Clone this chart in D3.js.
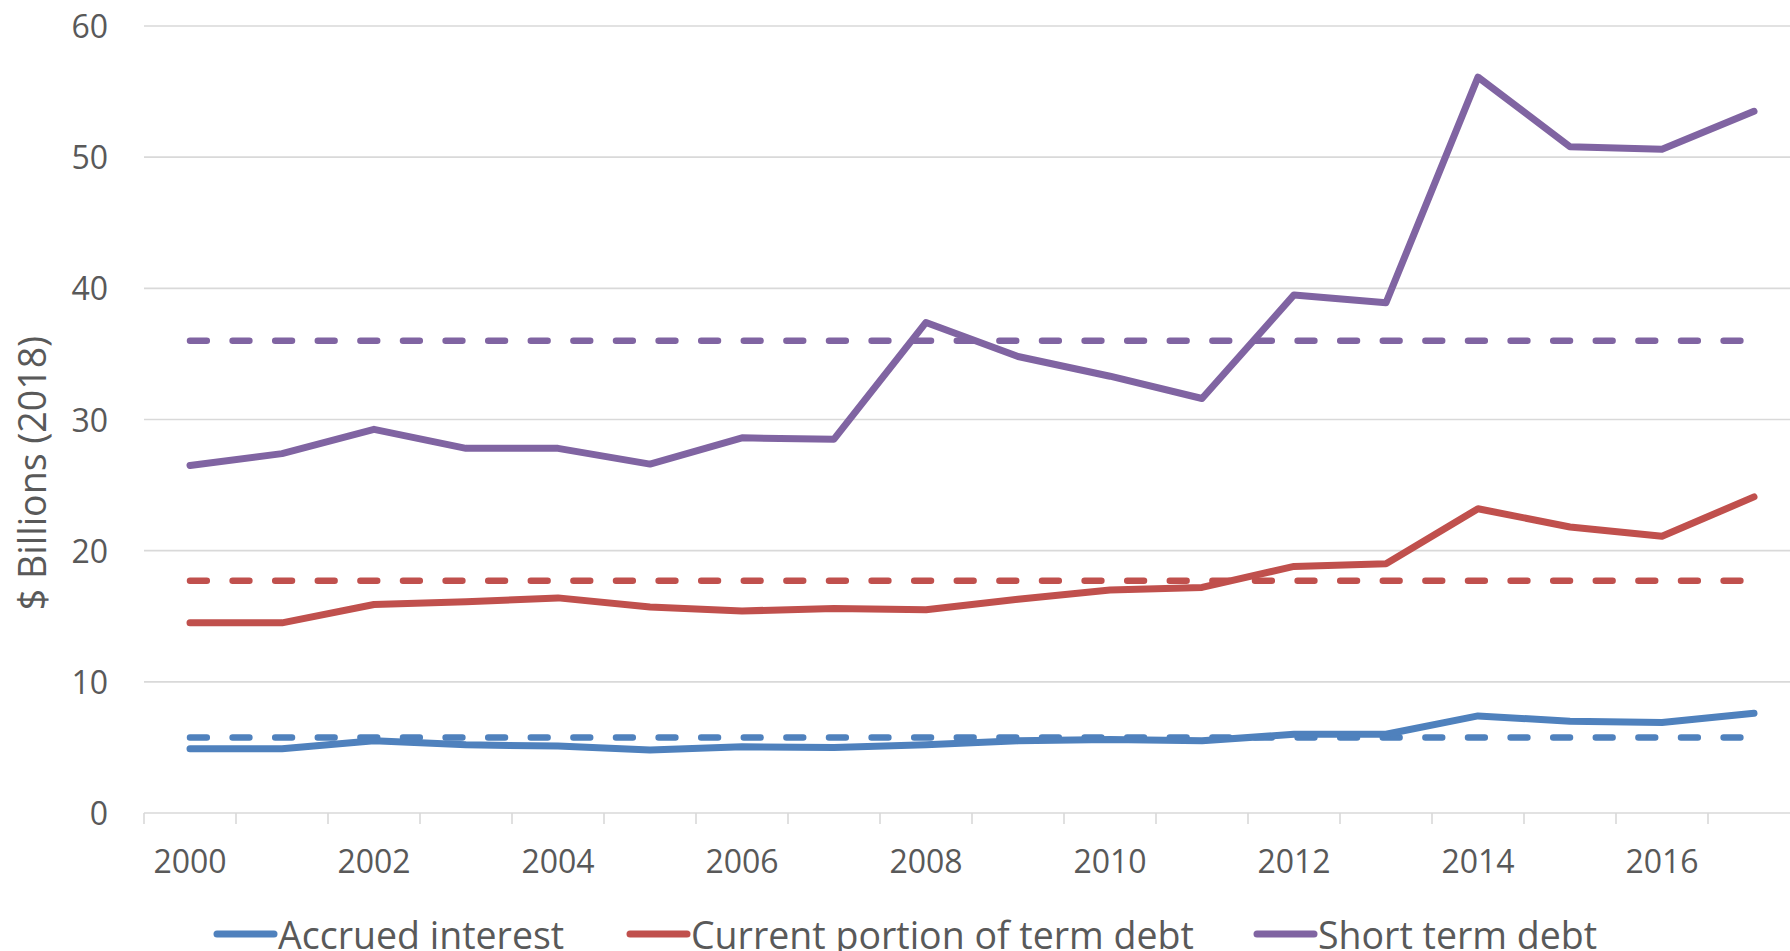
<!DOCTYPE html>
<html>
<head>
<meta charset="utf-8">
<script src="https://cdn.jsdelivr.net/npm/d3@7"></script>
<style>
  body { margin: 0; background: #fff; overflow: hidden; }
  text { font-family: "Open Sans", sans-serif; fill: #595959; }
</style>
</head>
<body>
<script>
/** chart data **/
var years = [2000, 2001, 2002, 2003, 2004, 2005, 2006, 2007, 2008,
             2009, 2010, 2011, 2012, 2013, 2014, 2015, 2016, 2017];
var yearLabels = [2000, 2002, 2004, 2006, 2008, 2010, 2012, 2014, 2016];
var yTicks = [0, 10, 20, 30, 40, 50, 60];

var accruedInterest = [4.9, 4.9, 5.5, 5.2, 5.1, 4.8, 5.05, 5.0, 5.2,
                       5.5, 5.6, 5.5, 6.0, 6.0, 7.4, 7.0, 6.9, 7.6];
var currentPortion  = [14.5, 14.5, 15.9, 16.1, 16.4, 15.7, 15.4, 15.6, 15.5,
                       16.3, 17.0, 17.2, 18.8, 19.0, 23.2, 21.8, 21.1, 24.1];
var shortTermDebt   = [26.5, 27.4, 29.25, 27.8, 27.8, 26.6, 28.6, 28.5, 37.4,
                       34.8, 33.3, 31.6, 39.5, 38.9, 56.1, 50.8, 50.6, 53.5];

// average lines (dashed)
var accruedAvg = 5.75;
var currentAvg = 17.7;
var shortAvg = 36.0;

var seriesNames = ["Accrued interest", "Current portion of term debt", "Short term debt"];
var seriesColors = ["#4F81BD", "#C0504D", "#8064A2"];

var width = 1790, height = 951;

var svg = d3.select("body").append("svg")
	.attr("width", width)
	.attr("height", height);

// plot area (the right edge runs past the picture, as in the original)
var plot = { left: 144, right: 1800, top: 26, bottom: 813 };

var x = d3.scaleBand()
	.domain(years)
	.range([plot.left, plot.right]);

var y = d3.scaleLinear()
	.domain([0, 60])
	.range([plot.bottom, plot.top]);

var cx = function (yr) { return x(yr) + x.bandwidth() / 2; };

// horizontal gridlines
svg.append("g")
	.selectAll("line")
	.data(yTicks)
	.join("line")
	.attr("x1", plot.left)
	.attr("x2", width)
	.attr("y1", d => y(d))
	.attr("y2", d => y(d))
	.attr("stroke", "#d9d9d9")
	.attr("stroke-width", 1.6);

// y tick labels
var yAxis = d3.axisLeft(y).tickValues(yTicks).tickSize(0).tickPadding(0);
var gy = svg.append("g")
	.attr("transform", "translate(108,0)")
	.call(yAxis);
gy.select(".domain").remove();
gy.selectAll("text")
	.attr("dy", "0.36em")
	.style("font-size", "32px")
	.style("font-family", "'Open Sans', sans-serif")
	.attr("fill", "#595959");

// x axis tick marks between categories
var boundaries = years.map(d => x(d)).concat([plot.right]);
svg.append("g")
	.selectAll("line")
	.data(boundaries)
	.join("line")
	.attr("x1", d => d)
	.attr("x2", d => d)
	.attr("y1", plot.bottom)
	.attr("y2", plot.bottom + 11)
	.attr("stroke", "#d9d9d9")
	.attr("stroke-width", 1.6);

// x labels every other year
var xAxis = d3.axisBottom(x).tickValues(yearLabels).tickSize(0).tickPadding(0);
var gx = svg.append("g")
	.attr("transform", "translate(0,873)")
	.call(xAxis);
gx.select(".domain").remove();
gx.selectAll("text")
	.attr("dy", 0)
	.attr("y", 0)
	.style("font-size", "32px")
	.style("font-family", "'Open Sans', sans-serif")
	.attr("fill", "#595959");

// y axis title
svg.append("text")
	.attr("transform", "translate(46,473) rotate(-90)")
	.style("text-anchor", "middle")
	.style("font-size", "37.5px")
	.text("$ Billions (2018)");

var line = d3.line()
	.x((d, i) => cx(years[i]))
	.y(d => y(d));

var solid = [accruedInterest, currentPortion, shortTermDebt];
var averages = [accruedAvg, currentAvg, shortAvg];

// dashed average lines first, solid series on top
averages.forEach(function (avg, k) {
	svg.append("path")
		.attr("d", line(years.map(() => avg)))
		.attr("fill", "none")
		.attr("stroke", seriesColors[k])
		.attr("stroke-width", 6.5)
		.attr("stroke-linecap", "round")
		.attr("stroke-dasharray", "16.8,25.8");
});

solid.forEach(function (vals, k) {
	svg.append("path")
		.attr("d", line(vals))
		.attr("fill", "none")
		.attr("stroke", seriesColors[k])
		.attr("stroke-width", 7)
		.attr("stroke-linejoin", "round")
		.attr("stroke-linecap", "round");
});

// legend along the bottom edge (cut by the picture edge, as in the original)
var legendX = [217, 630, 1257];
var legend = svg.append("g")
	.selectAll("g")
	.data(seriesNames)
	.join("g")
	.attr("transform", (d, i) => "translate(" + legendX[i] + ",0)");

legend.append("line")
	.attr("x1", 0)
	.attr("x2", 57)
	.attr("y1", 934)
	.attr("y2", 934)
	.attr("stroke", (d, i) => seriesColors[i])
	.attr("stroke-width", 7)
	.attr("stroke-linecap", "round");

legend.append("text")
	.attr("x", 61)
	.attr("y", 949)
	.style("font-size", "37.5px")
	.text(d => d);
</script>
</body>
</html>
